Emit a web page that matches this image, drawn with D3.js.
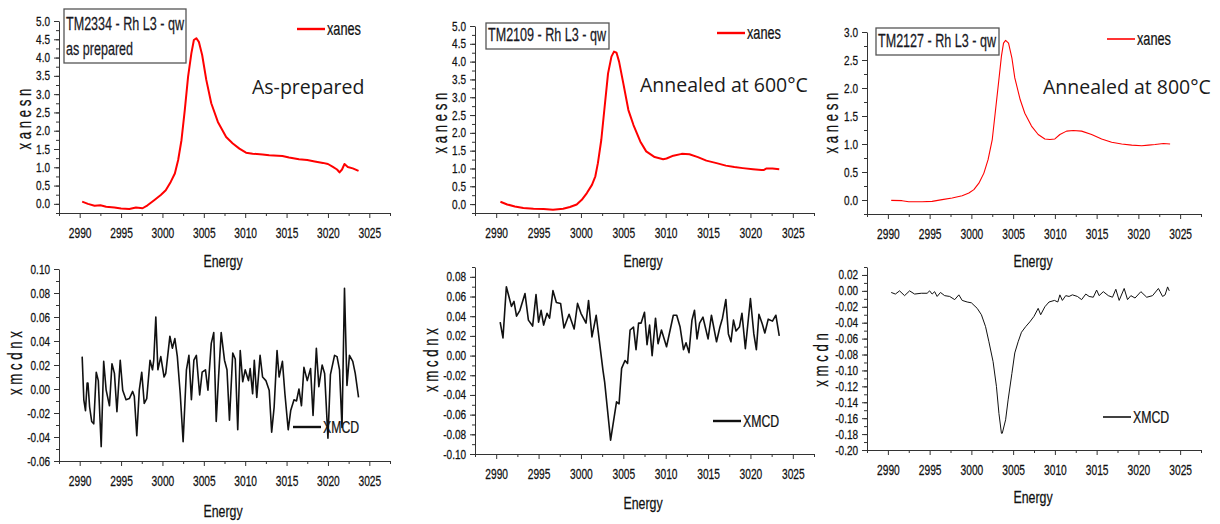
<!DOCTYPE html>
<html>
<head>
<meta charset="utf-8">
<script src="https://cdn.jsdelivr.net/npm/d3@7"></script>
<style>
  body { margin: 0; background: #fff; }
  svg { display: block; }
  .tick text { font-family: "Liberation Sans", Arial, sans-serif; fill: #111; stroke: #111; stroke-width: 0.25px; }
  .lbl { font-family: "Liberation Sans", Arial, sans-serif; fill: #111; stroke: #111; stroke-width: 0.25px; }
  .note { font-family: "Open Sans", sans-serif; font-size: 19.5px; fill: #1a1a1a; }
</style>
</head>
<body>
<svg id="chart" width="1220" height="524"></svg>
<script>
// energy axis ticks shared by all panels
var energyTicks = [2990, 2995, 3000, 3005, 3010, 3015, 3020, 3025];
var energyMinor = [2987.5, 2992.5, 2997.5, 3002.5, 3007.5, 3012.5, 3017.5, 3022.5, 3027.5];

var xanesTicks5 = [0, 0.5, 1, 1.5, 2, 2.5, 3, 3.5, 4, 4.5, 5];
var xanesTicks3 = [0, 0.5, 1, 1.5, 2, 2.5, 3];
var xmcdTicksA = [-0.06, -0.04, -0.02, 0, 0.02, 0.04, 0.06, 0.08, 0.10];
var xmcdTicksB = [-0.10, -0.08, -0.06, -0.04, -0.02, 0, 0.02, 0.04, 0.06, 0.08];
var xmcdTicksC = [-0.20, -0.18, -0.16, -0.14, -0.12, -0.10, -0.08, -0.06, -0.04, -0.02, 0, 0.02];

// TM2334 as prepared - xanes [energy, value]
var xanes2334 = [[2990.3,0.06],[2991,0],[2991.8,-0.05],[2992.5,-0.04],[2993.2,-0.08],[2994.2,-0.10],[2995,-0.13],[2996,-0.14],
  [2996.8,-0.10],[2997.6,-0.12],[2998.2,-0.04],[2999,0.10],[2999.8,0.24],[3000.4,0.37],[3001,0.60],[3001.5,0.83],[3001.9,1.20],
  [3002.3,1.74],[3002.7,2.56],[3003.1,3.48],[3003.5,4.12],[3003.8,4.48],[3004.1,4.53],[3004.4,4.43],[3004.8,4.07],[3005.3,3.39],
  [3005.9,2.75],[3006.7,2.24],[3007.7,1.83],[3008.5,1.65],[3009.3,1.51],[3010.1,1.40],[3010.9,1.37],[3012.1,1.35],[3012.9,1.33],
  [3014.5,1.31],[3015.3,1.27],[3016.5,1.22],[3017.5,1.20],[3018.4,1.16],[3019.4,1.12],[3020,1.09],[3020.6,1.01],[3021.1,0.94],
  [3021.4,0.86],[3021.7,0.94],[3022,1.09],[3022.4,1.01],[3023,0.97],[3023.7,0.90]];

// TM2109 annealed 600 - xanes
var xanes2109 = [[2990.5,0.065],[2991.3,-0.01],[2992.2,-0.065],[2993.2,-0.11],[2994.4,-0.13],[2995.6,-0.14],[2996.7,-0.16],
  [2997.9,-0.13],[2998.7,-0.08],[2999.5,-0.01],[3000.1,0.12],[3000.7,0.31],[3001.3,0.54],[3001.7,0.78],[3002,1.15],[3002.4,1.80],
  [3002.8,2.74],[3003.2,3.67],[3003.6,4.14],[3003.9,4.28],[3004.2,4.25],[3004.5,4.00],[3005,3.39],[3005.6,2.64],[3006.2,2.22],
  [3007,1.76],[3007.7,1.48],[3008.7,1.32],[3009.7,1.26],[3010.1,1.28],[3010.9,1.36],[3011.9,1.41],[3012.8,1.40],[3013.8,1.32],
  [3014.8,1.22],[3016,1.15],[3017.1,1.08],[3018.1,1.04],[3019.1,1.01],[3020.3,0.98],[3021.3,0.96],[3021.6,0.96],[3021.9,1.00],
  [3022.6,1.00],[3023.4,0.98]];

// TM2127 annealed 800 - xanes
var xanes2127 = [[2990.4,-0.006],[2991.7,-0.012],[2992.5,-0.03],[2994.1,-0.03],[2995.3,-0.024],[2996.5,0.006],[2997.7,0.036],
  [2998.9,0.077],[2999.7,0.125],[3000.3,0.185],[3000.9,0.30],[3001.5,0.48],[3002,0.72],[3002.5,1.08],[3002.85,1.55],[3003.25,2.09],
  [3003.6,2.57],[3003.85,2.80],[3004.1,2.85],[3004.45,2.80],[3004.85,2.54],[3005.2,2.18],[3005.85,1.79],[3006.4,1.55],[3007.2,1.32],
  [3008,1.17],[3008.8,1.09],[3009.4,1.08],[3010,1.09],[3010.6,1.17],[3011.4,1.23],[3012.2,1.24],[3013.2,1.23],[3014.4,1.17],
  [3015.6,1.09],[3016.8,1.03],[3018,1.00],[3019.2,0.98],[3020.4,0.97],[3021.2,0.98],[3022,0.99],[3023,1.01],[3023.8,1.00]];

// XMCD curves
var xmcd2334 = [[2990.3,0.027],[2990.5,-0.009],[2990.7,-0.018],[2990.9,0.005],[2991,0.005],[2991.2,-0.015],[2991.45,-0.027],
  [2991.7,-0.029],[2992,0.014],[2992.25,0.007],[2992.6,-0.048],[2992.9,0.023],[2993.2,-0.001],[2993.6,-0.014],[2993.9,0.021],
  [2994.2,0.013],[2994.5,-0.019],[2994.9,0.024],[2995.2,-0.001],[2995.6,-0.009],[2996,-0.008],[2996.4,-0.002],[2996.6,-0.006],
  [2996.9,-0.039],[2997.2,-0.001],[2997.5,0.014],[2997.8,-0.012],[2998.1,-0.008],[2998.5,0.024],[2998.8,0.016],[2998.95,0.024],
  [2999.2,0.060],[2999.45,0.016],[2999.8,0.027],[3000.2,0.010],[3000.4,0.013],[3000.9,0.044],[3001.2,0.034],[3001.5,0.042],
  [3001.8,0.027],[3002.15,-0.004],[3002.5,-0.044],[3002.9,0.016],[3003.2,0.028],[3003.5,-0.009],[3003.8,0.024],[3004.1,0.028],
  [3004.5,-0.005],[3004.8,0.014],[3005.2,0.016],[3005.5,-0.001],[3005.9,0.038],[3006.2,0.047],[3006.5,-0.027],[3006.8,0.012],
  [3007.1,0.047],[3007.5,0.024],[3007.8,0.016],[3008.1,-0.026],[3008.5,0.030],[3008.8,0.025],[3009.1,-0.034],[3009.4,0.032],
  [3009.7,0.006],[3010,0.016],[3010.4,0.007],[3010.6,0.017],[3010.9,-0.004],[3011.1,0.024],[3011.4,-0.007],[3011.8,0.028],
  [3012.1,0.010],[3012.5,0.007],[3012.9,-0.001],[3013.2,-0.036],[3013.5,-0.015],[3013.85,0.032],[3014.1,0.010],[3014.5,0.023],
  [3014.8,-0.004],[3015.2,-0.034],[3015.5,-0.018],[3015.9,-0.009],[3016.2,-0.010],[3016.5,0.000],[3016.8,-0.014],[3017.1,0.018],
  [3017.5,0.007],[3017.9,0.017],[3018.2,-0.022],[3018.6,0.034],[3018.9,0.002],[3019.3,0.020],[3019.6,0.013],[3020,-0.041],
  [3020.3,0.012],[3020.8,0.028],[3021.1,0.027],[3021.4,0.016],[3021.7,-0.032],[3022,0.084],[3022.3,0.003],[3022.6,0.028],
  [3023,0.023],[3023.3,0.013],[3023.7,-0.007]];

var xmcd2109 = [[2990.47,0.034],[2990.8,0.018],[2991.2,0.070],[2991.5,0.060],[2991.8,0.050],[2992.1,0.055],[2992.4,0.040],
  [2992.8,0.046],[2993.4,0.063],[2993.8,0.036],[2994.3,0.030],[2994.7,0.062],[2995,0.034],[2995.3,0.046],[2995.6,0.031],
  [2996,0.043],[2996.3,0.038],[2996.7,0.066],[2997.1,0.054],[2997.6,0.053],[2998,0.028],[2998.6,0.042],[2999.2,0.027],
  [2999.6,0.053],[3000,0.043],[3000.6,0.033],[3000.9,0.056],[3001.3,0.019],[3001.8,0.041],[3002.6,-0.015],[3002.8,-0.027],
  [3003.5,-0.086],[3004.2,-0.047],[3004.5,-0.049],[3004.8,-0.013],[3005.2,-0.005],[3005.5,-0.008],[3005.8,0.026],[3006.2,0.029],
  [3006.5,0.006],[3006.8,0.033],[3007.1,0.033],[3007.5,0.044],[3007.8,0.011],[3008.1,0.031],[3008.4,0.000],[3008.8,0.038],
  [3009.1,0.012],[3009.5,0.026],[3010.1,0.009],[3010.9,0.041],[3011.3,0.041],[3011.7,0.029],[3012.1,0.006],[3012.4,0.013],
  [3012.75,0.003],[3013.1,0.036],[3013.4,0.046],[3013.7,0.017],[3014,0.033],[3014.4,0.039],[3015,0.017],[3015.4,0.041],
  [3016,0.014],[3016.4,0.029],[3016.7,0.038],[3017.1,0.057],[3017.4,0.022],[3017.7,0.014],[3018,0.036],[3018.3,0.025],
  [3018.7,0.029],[3019,0.043],[3019.4,0.007],[3020,0.058],[3020.4,0.022],[3020.7,0.006],[3021,0.042],[3021.4,0.032],
  [3021.7,0.023],[3022.1,0.037],[3022.6,0.035],[3023,0.041],[3023.4,0.020]];

var xmcd2127 = [[2990.4,-0.002],[2990.9,-0.004],[2991.4,0.000],[2992,-0.006],[2992.6,0.000],[2993.2,-0.004],[2994,-0.003],
  [2994.7,-0.003],[2995,0.000],[2995.3,-0.004],[2995.6,-0.001],[2995.9,-0.007],[2996.3,-0.002],[2996.8,-0.006],[2997.4,-0.007],
  [2998,-0.011],[2998.5,-0.005],[2998.9,-0.012],[2999.5,-0.014],[3000,-0.015],[3000.7,-0.022],[3001.2,-0.030],[3001.7,-0.045],
  [3002.1,-0.064],[3002.6,-0.089],[3003,-0.120],[3003.3,-0.154],[3003.6,-0.179],[3003.7,-0.179],[3004.1,-0.162],[3004.4,-0.137],
  [3004.85,-0.104],[3005.2,-0.078],[3005.6,-0.064],[3006,-0.052],[3006.5,-0.045],[3007,-0.039],[3007.5,-0.032],[3008,-0.022],
  [3008.3,-0.030],[3008.8,-0.020],[3009.3,-0.014],[3009.95,-0.012],[3010.35,-0.014],[3010.6,-0.005],[3010.9,-0.012],
  [3011.3,-0.006],[3011.7,-0.007],[3012.1,-0.005],[3012.7,-0.007],[3013.2,-0.011],[3013.7,-0.004],[3014.1,-0.007],
  [3014.6,-0.008],[3015,0.001],[3015.3,-0.006],[3015.8,-0.001],[3016.4,-0.006],[3016.9,-0.008],[3017.3,0.002],[3017.7,-0.012],
  [3018.3,0.003],[3018.7,-0.011],[3019.1,-0.006],[3019.6,-0.009],[3020.3,-0.001],[3021,-0.008],[3021.7,-0.006],[3022.4,0.003],
  [3022.9,-0.007],[3023.2,-0.005],[3023.5,0.005],[3023.7,0.000]];

var svg = d3.select("#chart");

//panel layout, in pixels
var panels = [
  {data: xanes2334, left: 59, right: 390, top: 21, bottom: 213, yDom: [-0.25, 5], ticks: xanesTicks5, minor: 0.25, fmt: 1,
   color: "#ff0000", width: 2, ylabel: "x a n e s n", ylx: 26, yly: 119, energyY: 267, energyX: 223,
   legend: "xanes", lgX: 297, lgY: 29, box: {x: 64, y: 9, w: 122, h: 54, ty: 21, lines: ["TM2334 - Rh L3 - qw", "as prepared"]},
   note: {text: "As-prepared", x: 252, y: 94}},
  {data: xmcd2334, left: 59, right: 390, top: 269, bottom: 461, yDom: [-0.06, 0.10], ticks: xmcdTicksA, minor: 0.01, fmt: 2,
   color: "#111", width: 1.6, ylabel: "x m c d n x", ylx: 17, yly: 363, energyY: 517, energyX: 223,
   legend: "XMCD", lgX: 293, lgY: 427},
  {data: xanes2109, left: 475, right: 814, top: 26, bottom: 213, yDom: [-0.25, 5], ticks: xanesTicks5, minor: 0.25, fmt: 1,
   color: "#ff0000", width: 2, ylabel: "x a n e s n", ylx: 442, yly: 123, energyY: 267, energyX: 643,
   legend: "xanes", lgX: 717, lgY: 33, box: {x: 486, y: 23, w: 123, h: 26, ty: 17.5, lines: ["TM2109 - Rh L3 - qw"]},
   note: {text: "Annealed at 600°C", x: 640, y: 92}},
  {data: xmcd2109, left: 475, right: 814, top: 267, bottom: 454, yDom: [-0.10, 0.09], ticks: xmcdTicksB, minor: 0.01, fmt: 2,
   color: "#111", width: 1.6, ylabel: "x m c d n x", ylx: 433, yly: 360, energyY: 509, energyX: 643,
   legend: "XMCD", lgX: 713, lgY: 421},
  {data: xanes2127, left: 867, right: 1201, top: 32, bottom: 214, yDom: [-0.25, 3], ticks: xanesTicks3, minor: 0.25, fmt: 1,
   color: "#ff0000", width: 1.1, ylabel: "x a n e s n", ylx: 833, yly: 123, energyY: 267, energyX: 1033,
   legend: "xanes", lgX: 1107, lgY: 39, box: {x: 876, y: 28, w: 123, h: 27, ty: 18.5, lines: ["TM2127 - Rh L3 - qw"]},
   note: {text: "Annealed at 800°C", x: 1043, y: 94}},
  {data: xmcd2127, left: 867, right: 1201, top: 267, bottom: 450, yDom: [-0.20, 0.03], ticks: xmcdTicksC, minor: 0.01, fmt: 2,
   color: "#111", width: 1, ylabel: "x m c d n", ylx: 823, yly: 360, energyY: 503, energyX: 1033,
   legend: "XMCD", lgX: 1103, lgY: 417}
];

// narrow text: Arial squeezed horizontally, like Arial Narrow
function narrow(g, x, y, size, sx, str, rot) {
  return g.append("text").attr("class", "lbl")
    .attr("transform", "translate(" + x + "," + y + ")" + (rot ? " rotate(-90)" : "") + " scale(" + sx + ",1)")
    .style("font-size", size + "px").text(str);
}

panels.forEach(function(p){
  var g = svg.append("g");
  var x = d3.scaleLinear().domain([2987.5, 3027.5]).range([p.left, p.right]);
  var y = d3.scaleLinear().domain(p.yDom).range([p.bottom, p.top]);

  // minor y ticks
  var yMinor = d3.range(Math.ceil(p.yDom[0] / p.minor - 1e-6), Math.floor(p.yDom[1] / p.minor + 1e-6) + 1)
    .map(function(k){ return +(k * p.minor).toFixed(4); });

  g.append("g").attr("transform", "translate(0," + p.bottom + ")")
    .call(d3.axisBottom(x).tickValues(energyMinor).tickSize(3).tickSizeOuter(0).tickFormat(""))
    .call(function(a){ a.select(".domain").remove(); });
  var xa = g.append("g").attr("transform", "translate(0," + p.bottom + ")")
    .call(d3.axisBottom(x).tickValues(energyTicks).tickSize(5).tickSizeOuter(0).tickPadding(10).tickFormat(d3.format("d")));
  xa.selectAll(".tick text").style("font-size", "14px").attr("transform", "scale(0.73,1)");

  g.append("g").attr("transform", "translate(" + p.left + ",0)")
    .call(d3.axisLeft(y).tickValues(yMinor).tickSize(3).tickSizeOuter(0).tickFormat(""))
    .call(function(a){ a.select(".domain").remove(); });
  var ya = g.append("g").attr("transform", "translate(" + p.left + ",0)")
    .call(d3.axisLeft(y).tickValues(p.ticks).tickSize(5).tickSizeOuter(0)
      .tickFormat(function(d){ return d.toFixed(p.fmt); }));
  ya.selectAll(".tick text").style("font-size", "12.5px").attr("x", 0).attr("transform", "translate(-9,0) scale(0.8,1)");

  g.selectAll(".domain, .tick line").attr("stroke", "#333");

  var line = d3.line().x(function(d){ return x(d[0]); }).y(function(d){ return y(d[1]); });
  g.append("path").datum(p.data).attr("d", line)
    .attr("fill", "none").attr("stroke", p.color).attr("stroke-width", p.width).attr("stroke-linejoin", "round");

  narrow(g, p.energyX, p.energyY, 16.5, 0.75, "Energy").attr("text-anchor", "middle");
  narrow(g, p.ylx, p.yly, 20, 0.66, p.ylabel, true).attr("text-anchor", "middle").attr("dy", "0.26em");

  // legend
  g.append("line").attr("x1", p.lgX).attr("x2", p.lgX + 28).attr("y1", p.lgY).attr("y2", p.lgY)
    .attr("stroke", p.color).attr("stroke-width", p.width < 1.5 ? 1.6 : 2.4);
  if (p.legend == "xanes") {
    narrow(g, p.lgX + 30, p.lgY, 19, 0.67, p.legend).attr("dy", "0.3em");
  } else {
    narrow(g, p.lgX + 30, p.lgY, 16, 0.77, p.legend).attr("dy", "0.36em");
  }

  if (p.box) {
    g.append("rect").attr("x", p.box.x).attr("y", p.box.y).attr("width", p.box.w).attr("height", p.box.h)
      .attr("fill", "#fff").attr("stroke", "#555").attr("stroke-width", 1.3);
    p.box.lines.forEach(function(t, i){
      narrow(g, p.box.x + 2, p.box.y + p.box.ty + i * 25, 18.5, 0.68, t).style("fill", "#1b1b2a");
    });
  }
  if (p.note) {
    g.append("text").attr("class", "note").attr("x", p.note.x).attr("y", p.note.y).text(p.note.text);
  }
});
</script>
</body>
</html>
